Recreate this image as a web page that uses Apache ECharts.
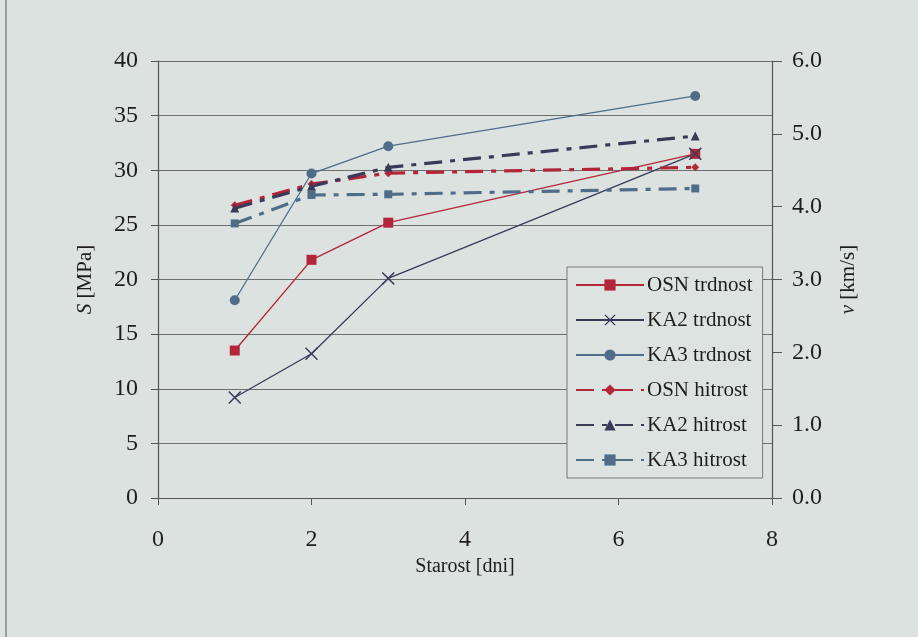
<!DOCTYPE html>
<html>
<head>
<meta charset="utf-8">
<script src="https://cdn.jsdelivr.net/npm/echarts@6/dist/echarts.min.js"></script>
<style>
  html, body { margin: 0; padding: 0; background: #dce2e0; }
  #chart { width: 918px; height: 637px; }
</style>
</head>
<body>
<div id="chart"></div>
<script>
// starost vzorcev [dni]
const days = [1, 2, 3, 7];
// tlačna trdnost S [MPa]
const osnStrength = [13.5, 21.8, 25.2, 31.5];
const ka2Strength = [9.2, 13.2, 20.1, 31.5];
const ka3Strength = [18.1, 29.7, 32.2, 36.8];
// hitrost ultrazvoka v [km/s]
const osnVelocity = [4.02, 4.31, 4.46, 4.54];
const ka2Velocity = [3.98, 4.28, 4.54, 4.97];
const ka3Velocity = [3.77, 4.16, 4.17, 4.25];

const seriesNames = ["OSN trdnost", "KA2 trdnost", "KA3 trdnost", "OSN hitrost", "KA2 hitrost", "KA3 hitrost"];

const RED = "#b3263a";
const NAVY = "#393a58";
const STEEL = "#4f6d89";
const FONT = "Liberation Serif";
// tanek križec (x)
const CROSS = "path://M0,0.8L0.8,0L5,4.2L9.2,0L10,0.8L5.8,5L10,9.2L9.2,10L5,5.8L0.8,10L0,9.2L4.2,5Z";
const DASHDOT = [18, 8, 5, 8];

const pairs = (xs, ys) => xs.map((x, i) => [x, ys[i]]);

const chart = echarts.init(document.getElementById("chart"));

const option = {
  backgroundColor: "#dce2e0",
  animation: false,
  // rob skenirane strani na levi
  graphic: [
    { type: "line", shape: { x1: 6, y1: 0, x2: 6, y2: 637 }, style: { stroke: "#6a6f6e", lineWidth: 1.2 } }
  ],
  grid: { left: 158, right: 146, top: 61, bottom: 139 },
  legend: {
    orient: "vertical",
    left: 567,
    top: 267,
    width: 196,
    padding: [6, 10, 6, 8],
    itemWidth: 68,
    itemHeight: 14,
    itemGap: 11,
    borderColor: "#7a7a7a",
    borderWidth: 1,
    backgroundColor: "#dde3e1",
    data: seriesNames,
    textStyle: { fontFamily: FONT, fontSize: 21, color: "#1e1e1e", lineHeight: 24, padding: [0, 0, 0, -2] }
  },
  xAxis: {
    type: "value",
    min: 0,
    max: 8,
    interval: 2,
    name: "Starost [dni]",
    nameLocation: "middle",
    nameGap: 56,
    nameTextStyle: { fontFamily: FONT, fontSize: 20, color: "#1e1e1e" },
    axisLine: { show: true, onZero: false, lineStyle: { color: "#555", width: 1.2 } },
    axisTick: { show: true, inside: false, length: 7, lineStyle: { color: "#555" } },
    axisLabel: { fontFamily: FONT, fontSize: 24, color: "#1e1e1e", margin: 30 },
    splitLine: { show: false }
  },
  yAxis: [
    {
      type: "value",
      min: 0,
      max: 40,
      interval: 5,
      name: "{i|S} [MPa]",
      nameLocation: "middle",
      nameRotate: 90,
      nameGap: 62,
      nameTextStyle: {
        fontFamily: FONT, fontSize: 21, color: "#1e1e1e",
        rich: { i: { fontFamily: FONT, fontSize: 21, fontStyle: "italic", color: "#1e1e1e" } }
      },
      axisLine: { show: true, lineStyle: { color: "#555", width: 1.2 } },
      axisTick: { show: true, length: 7, lineStyle: { color: "#555" } },
      axisLabel: { fontFamily: FONT, fontSize: 24, color: "#1e1e1e", margin: 20 },
      splitLine: { show: true, lineStyle: { color: "#6e6e6e", width: 1.2 } }
    },
    {
      type: "value",
      position: "right",
      min: 0,
      max: 6,
      interval: 1,
      name: "{i|v} [km/s]",
      nameLocation: "middle",
      nameRotate: 90,
      nameGap: 66,
      nameTextStyle: {
        fontFamily: FONT, fontSize: 21, color: "#1e1e1e",
        rich: { i: { fontFamily: FONT, fontSize: 21, fontStyle: "italic", color: "#1e1e1e" } }
      },
      axisLine: { show: true, lineStyle: { color: "#555", width: 1.2 } },
      axisTick: { show: true, length: 10, inside: false, lineStyle: { color: "#555" } },
      axisLabel: { fontFamily: FONT, fontSize: 24, color: "#1e1e1e", margin: 20, formatter: v => v.toFixed(1) },
      splitLine: { show: false }
    }
  ],
  series: [
    {
      name: seriesNames[0], type: "line", yAxisIndex: 0,
      data: pairs(days, osnStrength),
      symbol: "rect", symbolSize: 10,
      lineStyle: { color: RED, width: 1.3 },
      itemStyle: { color: RED }
    },
    {
      name: seriesNames[1], type: "line", yAxisIndex: 0,
      data: pairs(days, ka2Strength),
      symbol: CROSS, symbolSize: 13,
      lineStyle: { color: NAVY, width: 1.3 },
      itemStyle: { color: NAVY }
    },
    {
      name: seriesNames[2], type: "line", yAxisIndex: 0,
      data: pairs(days, ka3Strength),
      symbol: "circle", symbolSize: 10,
      lineStyle: { color: STEEL, width: 1.3 },
      itemStyle: { color: STEEL }
    },
    {
      name: seriesNames[3], type: "line", yAxisIndex: 1,
      data: pairs(days, osnVelocity),
      symbol: "diamond", symbolSize: 8,
      lineStyle: { color: RED, width: 3.2, type: DASHDOT },
      itemStyle: { color: RED }
    },
    {
      name: seriesNames[4], type: "line", yAxisIndex: 1,
      data: pairs(days, ka2Velocity),
      symbol: "triangle", symbolSize: 9,
      lineStyle: { color: NAVY, width: 3.2, type: DASHDOT },
      itemStyle: { color: NAVY }
    },
    {
      name: seriesNames[5], type: "line", yAxisIndex: 1,
      data: pairs(days, ka3Velocity),
      symbol: "rect", symbolSize: 8,
      lineStyle: { color: STEEL, width: 3.2, type: DASHDOT },
      itemStyle: { color: STEEL }
    }
  ]
};

chart.setOption(option);
</script>
</body>
</html>
